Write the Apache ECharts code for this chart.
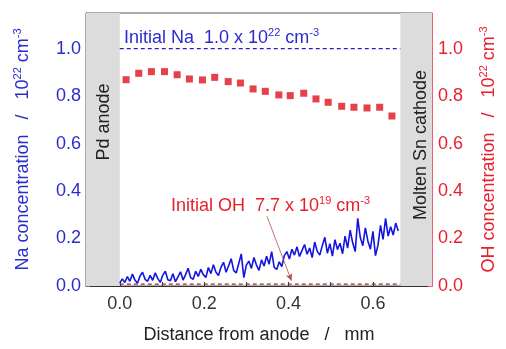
<!DOCTYPE html>
<html><head><meta charset="utf-8">
<script src="https://cdn.jsdelivr.net/npm/echarts@6/dist/echarts.min.js"></script>
<style>html,body{margin:0;padding:0;background:#fff}#c{width:506px;height:349px}</style>
</head><body><div id="c"></div>
<script>
// Na concentration profile (left axis, 10^22 cm^-3)
const naX = [0,0.006,0.012,0.018,0.024,0.03,0.036,0.042,0.048,0.054,0.06,0.066,0.072,0.078,0.084,0.09,0.096,0.102,0.108,0.114,0.12,0.126,0.132,0.138,0.144,0.15,0.156,0.162,0.168,0.174,0.18,0.186,0.192,0.198,0.204,0.21,0.216,0.222,0.228,0.234,0.24,0.246,0.252,0.258,0.264,0.27,0.276,0.282,0.288,0.294,0.3,0.306,0.312,0.318,0.324,0.33,0.336,0.342,0.348,0.354,0.36,0.366,0.372,0.378,0.384,0.39,0.396,0.402,0.408,0.414,0.42,0.426,0.432,0.438,0.444,0.45,0.456,0.462,0.468,0.474,0.48,0.486,0.492,0.498,0.504,0.51,0.516,0.522,0.528,0.534,0.54,0.546,0.552,0.558,0.564,0.57,0.576,0.582,0.588,0.594,0.6,0.606,0.612,0.618,0.624,0.63,0.636,0.642,0.648,0.654,0.66];
const naValues = [0.012,0.030,0.015,0.040,0.020,0.050,0.025,0.012,0.042,0.058,0.028,
0.020,0.045,0.024,0.055,0.032,0.015,0.046,0.062,0.026,0.022,0.052,
0.018,0.038,0.060,0.025,0.048,0.075,0.035,0.028,0.062,0.040,0.070,
0.048,0.036,0.078,0.052,0.090,0.058,0.044,0.080,0.100,0.058,0.085,
0.115,0.066,0.055,0.095,0.135,0.035,0.088,
0.105,0.074,0.120,0.088,0.066,0.110,0.084,0.125,0.092,0.145,0.078,0.070,0.102,0.082,
0.128,0.145,0.114,0.155,0.130,0.165,0.124,0.150,0.175,0.134,0.160,0.120,0.185,0.146,0.130,0.170,0.205,0.138,0.178,0.126,0.195,0.154,0.180,
0.136,0.210,0.160,0.235,0.182,0.145,0.285,0.205,0.170,0.245,0.190,0.155,0.230,0.128,0.172,0.255,0.196,0.285,0.210,0.250,0.215,0.265,0.232];
// OH concentration (right axis)
const ohX = [0.015,0.045,0.075,0.106,0.136,0.165,0.196,0.225,0.257,0.286,0.316,0.345,0.377,0.404,0.436,0.465,0.494,0.526,0.555,0.586,0.616,0.645];
const ohValues = [0.869,0.896,0.903,0.903,0.890,0.872,0.868,0.879,0.861,0.855,0.830,0.820,0.805,0.802,0.812,0.788,0.774,0.757,0.753,0.750,0.753,0.716];
const initialNa = 1.0;
const initialOH = 0.0077;
const anodeEnd = 0.0;
const cathodeStart = 0.665;
const xMin = -0.08, xMax = 0.74;
const yMin = 0, yMax = 1.15;
const xTickLabels = [0, 0.2, 0.4, 0.6];
const xTicks = [0, 0.1, 0.2, 0.3, 0.4, 0.5, 0.6, 0.7];
const yTickLabels = [0, 0.2, 0.4, 0.6, 0.8, 1.0];
const yTicks = [0, 0.1, 0.2, 0.3, 0.4, 0.5, 0.6, 0.7, 0.8, 0.9, 1.0, 1.1];
const annotFrom = [0.349, 0.293];
const annotTo = [0.407, 0.022];

const FONT = 'Liberation Sans';
const BLUE = '#2b2bd0';
const RED = '#e8202e';
const chart = echarts.init(document.getElementById('c'), null, {renderer: 'canvas'});
const pair = (xs, ys) => xs.map((x, i) => [x, ys[i]]);
const fmt = v => v.toFixed(1);
const richFor = (color, size) => ({
  a: {fontSize: size, color: color, fill: color, fontFamily: FONT, lineHeight: size + 4},
  s: {fontSize: Math.round(size * 0.62), color: color, fill: color, fontFamily: FONT, lineHeight: 10, verticalAlign: 'top'}
});

chart.setOption({
  animation: false,
  backgroundColor: '#fff',
  textStyle: {fontFamily: FONT},
  grid: {left: 86, right: 69, top: 13, bottom: 61, show: true, borderColor: '#555', borderWidth: 1, backgroundColor: '#fff'},
  xAxis: {
    type: 'value', min: xMin, max: xMax,
    axisLine: {onZero: false, lineStyle: {color: '#333', width: 1}},
    axisTick: {inside: true, length: 4, customValues: xTicks, lineStyle: {color: '#333'}},
    axisLabel: {customValues: xTickLabels, formatter: fmt, color: '#333', fontSize: 18, fontFamily: FONT, margin: 9},
    splitLine: {show: false},
    name: '{a|Distance from anode   /   mm}', nameLocation: 'middle', nameGap: 38,
    nameTextStyle: {rich: richFor('#222', 18)}
  },
  yAxis: [{
    type: 'value', min: yMin, max: yMax, position: 'left',
    axisLine: {show: true, onZero: false, lineStyle: {color: '#555'}},
    axisTick: {inside: true, length: 4, customValues: yTicks, lineStyle: {color: '#777'}},
    axisLabel: {customValues: yTickLabels, formatter: fmt, color: BLUE, fontSize: 18, fontFamily: FONT, margin: 5},
    splitLine: {show: false},
    name: '{a|Na concentration   /   10}{s|22}{a| cm}{s|-3}', nameLocation: 'middle', nameGap: 52, nameRotate: 90,
    nameTextStyle: {rich: richFor(BLUE, 18)}
  }, {
    type: 'value', min: yMin, max: yMax, position: 'right',
    axisLine: {show: true, onZero: false, lineStyle: {color: '#f06070'}},
    axisTick: {inside: true, length: 4, customValues: yTicks, lineStyle: {color: '#f06070'}},
    axisLabel: {customValues: yTickLabels, formatter: fmt, color: RED, fontSize: 18, fontFamily: FONT, margin: 6},
    splitLine: {show: false},
    name: '{a|OH concentration   /   10}{s|22}{a| cm}{s|-3}', nameLocation: 'middle', nameGap: 46, nameRotate: 90,
    nameTextStyle: {rich: richFor(RED, 18)}
  }],
  series: [{
    name: 'bands', type: 'line', data: [], yAxisIndex: 0, z: 1,
    markArea: {silent: true, itemStyle: {color: '#dcdcdc'},
      data: [[{xAxis: xMin}, {xAxis: anodeEnd}], [{xAxis: cathodeStart}, {xAxis: xMax}]]}
  }, {
    name: 'Initial Na', type: 'line', yAxisIndex: 0, symbol: 'none', z: 3,
    data: [[anodeEnd, initialNa], [cathodeStart, initialNa]],
    lineStyle: {color: '#2020c0', width: 1.3, type: [4, 3]}
  }, {
    name: 'Initial OH', type: 'line', yAxisIndex: 1, symbol: 'none', z: 3,
    data: [[anodeEnd, initialOH], [cathodeStart, initialOH]],
    lineStyle: {color: '#a02a2a', width: 1.3, type: [4, 3]},
    markLine: {silent: true, symbol: ['none', 'arrow'], symbolSize: [5, 7],
      lineStyle: {color: '#b05050', width: 0.8, type: 'solid'}, label: {show: false},
      data: [[{coord: annotFrom}, {coord: annotTo}]]}
  }, {
    name: 'Na', type: 'line', yAxisIndex: 0, symbol: 'none', z: 4,
    data: pair(naX, naValues),
    lineStyle: {color: '#1414e0', width: 1.6}
  }, {
    name: 'OH', type: 'scatter', yAxisIndex: 1, symbol: 'rect', symbolSize: 7, z: 5,
    data: pair(ohX, ohValues),
    itemStyle: {color: '#e0101e'}
  }],
  graphic: [
    {type: 'text', x: 124, y: 38, z: 100, style: {text: '{a|Initial Na  1.0 x 10}{s|22}{a| cm}{s|-3}', fill: BLUE, rich: richFor(BLUE, 18), verticalAlign: 'middle'}},
    {type: 'text', x: 171, y: 206, z: 100, style: {text: '{a|Initial OH  7.7 x 10}{s|19}{a| cm}{s|-3}', fill: RED, rich: richFor(RED, 18), verticalAlign: 'middle'}},
    {type: 'text', x: 104, y: 122, z: 100, rotation: Math.PI / 2, style: {text: 'Pd anode', fill: '#222', font: '18px "Liberation Sans"', align: 'center', verticalAlign: 'middle'}},
    {type: 'text', x: 421, y: 145, z: 100, rotation: Math.PI / 2, style: {text: 'Molten Sn cathode', fill: '#222', font: '18px "Liberation Sans"', align: 'center', verticalAlign: 'middle'}}
  ]
});
</script></body></html>
